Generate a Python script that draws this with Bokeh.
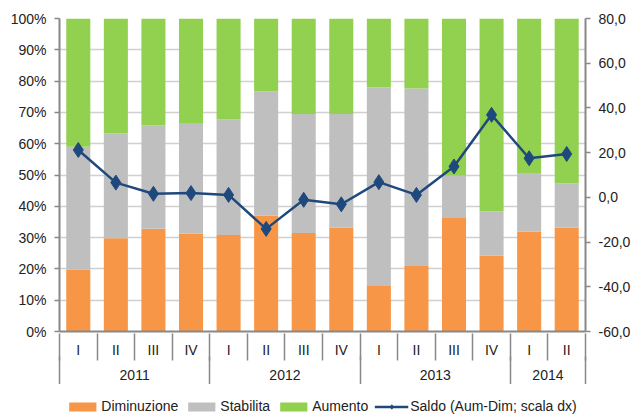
from bokeh.plotting import figure
from bokeh.layouts import column
from bokeh.models import (ColumnDataSource, Range1d, LinearAxis, Legend, LegendItem,
                          CustomJSTickFormatter, FixedTicker)
from bokeh.embed import file_html
from bokeh.resources import INLINE

years = ["2011"] * 4 + ["2012"] * 4 + ["2013"] * 4 + ["2014"] * 2
quarters = ["I", "II", "III", "IV", "I", "II", "III", "IV", "I", "II", "III", "IV", "I", "II"]
diminuzione = [19.7, 29.8, 32.8, 31.3, 30.8, 37.0, 31.5, 33.2, 14.8, 20.9, 36.3, 24.2, 31.9, 33.2]
stabilita = [39.3, 33.5, 33.1, 35.3, 36.9, 39.7, 38.0, 36.3, 63.2, 56.7, 13.5, 14.2, 18.5, 14.2]
aumento = [41.0, 36.7, 34.1, 33.4, 32.3, 23.3, 30.5, 30.5, 22.0, 22.4, 50.2, 61.6, 49.6, 52.6]
saldo = [21.2, 6.6, 1.6, 1.9, 1.1, -14.1, -1.1, -3.1, 6.8, 1.1, 13.8, 36.9, 17.5, 19.4]
series_names = ["Diminuzione", "Stabilita", "Aumento", "Saldo (Aum-Dim; scala dx)"]

y_ticks = [0, 10, 20, 30, 40, 50, 60, 70, 80, 90, 100]
y2_ticks = [-60, -40, -20, 0, 20, 40, 60, 80]

FONT = "Liberation Sans"
FS = "14px"
TXT = "#222222"
AX = "#888888"
COLORS = ["#F79646", "#BFBFBF", "#92D050"]
NAVY = "#1F497D"

n = len(quarters)
xpos = [i + 0.5 for i in range(n)]
bounds = [0]
for i in range(1, n):
    if years[i] != years[i - 1]:
        bounds.append(i)
bounds.append(n)
year_names = [years[b] for b in bounds[:-1]]
year_centres = [(bounds[k] + bounds[k + 1]) / 2 for k in range(len(year_names))]

src = ColumnDataSource(dict(x=xpos, dim=diminuzione, stab=stabilita, aum=aumento, saldo=saldo))

p = figure(frame_width=526, frame_height=313, x_range=Range1d(0, n), y_range=Range1d(0, 100),
           output_backend="svg", toolbar_location=None, x_axis_type=None)
p.extra_y_ranges = {"saldo": Range1d(-60, 80)}
p.min_border_left = 59
p.min_border_right = 46
p.min_border_top = 18
p.min_border_bottom = 0
p.outline_line_color = None
p.background_fill_color = "white"
p.border_fill_color = "white"

p.vbar_stack(["dim", "stab", "aum"], x="x", width=0.64, source=src,
             color=COLORS, line_color=None)
p.line("x", "saldo", source=src, y_range_name="saldo", color=NAVY, line_width=2.5)
p.scatter("x", "saldo", source=src, y_range_name="saldo", marker="diamond", size=15, color=NAVY)

p.xgrid.grid_line_color = None
p.ygrid.grid_line_color = "#D0D0D0"
p.ygrid.grid_line_width = 1.5
p.ygrid.ticker = FixedTicker(ticks=y_ticks)

ya = p.yaxis[0]
ya.ticker = FixedTicker(ticks=y_ticks)
ya.formatter = CustomJSTickFormatter(code="return tick + '%';")
y2 = LinearAxis(y_range_name="saldo", ticker=FixedTicker(ticks=y2_ticks),
                formatter=CustomJSTickFormatter(code="return tick.toFixed(1).replace('.', ',');"))
p.add_layout(y2, "right")
for a in (ya, y2):
    a.axis_line_color = AX
    a.axis_line_width = 2
    a.major_tick_line_color = AX
    a.major_tick_line_width = 1.5
    a.major_tick_out = 5
    a.major_tick_in = 0
    a.minor_tick_line_color = None
    a.major_label_text_font = FONT
    a.major_label_text_font_size = FS
    a.major_label_text_color = TXT
    a.major_label_standoff = 8


def style_x(ax):
    ax.major_tick_line_color = None
    ax.major_tick_out = 0
    ax.major_tick_in = 0
    ax.minor_tick_out = 0
    ax.minor_tick_in = 0
    ax.minor_tick_line_color = AX
    ax.minor_tick_line_width = 1.5
    ax.major_label_text_font = FONT
    ax.major_label_text_font_size = FS
    ax.major_label_text_color = TXT


xq = LinearAxis(ticker=FixedTicker(ticks=xpos),
                formatter=CustomJSTickFormatter(args=dict(labels=quarters),
                                                code="return labels[Math.floor(tick)];"))
style_x(xq)
xq.axis_line_color = AX
xq.axis_line_width = 2
xq.minor_tick_line_color = None
xq.major_label_standoff = 10
p.add_layout(xq, "below")

xy = LinearAxis(ticker=FixedTicker(ticks=year_centres, minor_ticks=list(range(n + 1))),
                formatter=CustomJSTickFormatter(args=dict(labels=year_names, centres=year_centres),
                                                code="return labels[centres.indexOf(tick)];"))
style_x(xy)
xy.axis_line_color = None
xy.minor_tick_in = 27
xy.major_label_standoff = 9
p.add_layout(xy, "below")

xs = LinearAxis(ticker=FixedTicker(ticks=[], minor_ticks=bounds))
style_x(xs)
xs.axis_line_color = None
xs.minor_tick_in = 26
xs.minor_tick_out = 2
xs.major_label_standoff = 0
xs.major_label_text_font_size = "0px"
p.add_layout(xs, "below")

# legend strip below the chart (hidden copies of the series provide the legend glyphs)
q = figure(width=631, height=31, x_range=Range1d(0, n), y_range=Range1d(0, 100),
           output_backend="svg", toolbar_location=None, x_axis_type=None, y_axis_type=None)
q.extra_y_ranges = {"saldo": Range1d(-60, 80)}
q.min_border_top = 0
q.min_border_bottom = 0
q.outline_line_color = None
q.grid.visible = False
lbars = q.vbar_stack(["dim", "stab", "aum"], x="x", width=0.64, source=src,
                     color=COLORS, line_color=None, visible=False)
lline = q.line("x", "saldo", source=src, y_range_name="saldo", color=NAVY, line_width=2.5,
               visible=False)
lpts = q.scatter("x", "saldo", source=src, y_range_name="saldo", marker="diamond", size=7,
                 color=NAVY, visible=False)

legend = Legend(items=[
    LegendItem(label=series_names[0], renderers=[lbars[0]]),
    LegendItem(label=series_names[1], renderers=[lbars[1]]),
    LegendItem(label=series_names[2], renderers=[lbars[2]]),
    LegendItem(label=series_names[3], renderers=[lline, lpts]),
], orientation="horizontal", location="top_center")
legend.label_text_font = FONT
legend.label_text_font_size = FS
legend.label_text_color = TXT
legend.glyph_width = 34
legend.glyph_height = 11
legend.label_standoff = 2
legend.spacing = 6
legend.padding = 0
legend.margin = 14
legend.border_line_color = None
legend.background_fill_alpha = 0
q.add_layout(legend)

open("out.html", "w").write(file_html(column(p, q, spacing=0), INLINE))
